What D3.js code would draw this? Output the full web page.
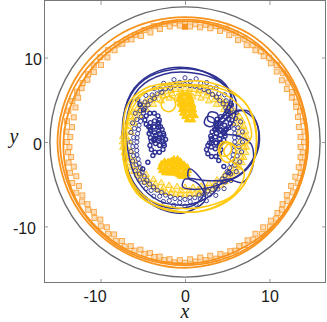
<!DOCTYPE html>
<html>
<head>
<meta charset="utf-8">
<script src="https://cdn.jsdelivr.net/npm/d3@7"></script>
<style>
  body { margin: 0; background: #fff; }
  svg { display: block; }
  .tick text { font-family: "Liberation Sans", Arial, sans-serif; font-size: 16px; fill: #1a1a1a; }
  .tick line { stroke: #999; }
  .axis-label { font-family: "Liberation Serif", "Times New Roman", serif; font-style: italic; font-size: 20px; fill: #1a1a1a; }
</style>
</head>
<body>
<svg id="chart" width="327" height="322"></svg>
<script>
/*
** DATA (all values in plot units)
*/
const ticks = [-10, 0, 10];
const boundaryRadius = 16;

// sampling angles (degrees) for the polar bands
const lineAngles = [0, 30, 60, 90, 120, 150, 180, 210, 240, 270, 300, 330];
const bandAngles = [0, 10, 20, 30, 40, 50, 60, 70, 80, 90, 100, 110, 120, 130, 140, 150, 160, 170,
  180, 190, 200, 210, 220, 230, 240, 250, 260, 270, 280, 290, 300, 310, 320, 330, 340, 350];
const bandAnglesHalf = [5, 15, 25, 35, 45, 55, 65, 75, 85, 95, 105, 115, 125, 135, 145, 155, 165, 175,
  185, 195, 205, 215, 225, 235, 245, 255, 265, 275, 285, 295, 305, 315, 325, 335, 345, 355];
const squareAngles = [0, 5, 10, 15, 20, 25, 30, 35, 40, 45, 50, 55, 60, 65, 70, 75, 80, 85, 90, 95, 100, 105, 110, 115,
  120, 125, 130, 135, 140, 145, 150, 155, 160, 165, 170, 175, 180, 185, 190, 195, 200, 205, 210, 215, 220, 225, 230, 235,
  240, 245, 250, 255, 260, 265, 270, 275, 280, 285, 290, 295, 300, 305, 310, 315, 320, 325, 330, 335, 340, 345, 350, 355];
const squareAnglesHalf = [2.5, 7.5, 12.5, 17.5, 22.5, 27.5, 32.5, 37.5, 42.5, 47.5, 52.5, 57.5, 62.5, 67.5, 72.5, 77.5, 82.5, 87.5,
  92.5, 97.5, 102.5, 107.5, 112.5, 117.5, 122.5, 127.5, 132.5, 137.5, 142.5, 147.5, 152.5, 157.5, 162.5, 167.5, 172.5, 177.5,
  182.5, 187.5, 192.5, 197.5, 202.5, 207.5, 212.5, 217.5, 222.5, 227.5, 232.5, 237.5, 242.5, 247.5, 252.5, 257.5, 262.5, 267.5,
  272.5, 277.5, 282.5, 287.5, 292.5, 297.5, 302.5, 307.5, 312.5, 317.5, 322.5, 327.5, 332.5, 337.5, 342.5, 347.5, 352.5, 357.5];

// orange particle: trajectory loops (radius at each line angle)
const orangeLoops = [
  [14.5, 14.7, 14.9, 14.8, 14.9, 15.0, 15.1, 15.0, 14.9, 14.9, 14.8, 14.6],
  [14.4, 14.3, 14.5, 14.5, 14.3, 14.6, 14.8, 14.7, 14.7, 14.6, 14.6, 14.4],
  [14.6, 14.5, 14.2, 14.3, 14.0, 14.1, 14.4, 14.6, 14.5, 14.4, 14.3, 14.5]
];
// orange particle: square markers
const orangeSquaresOuter = [14.1, 14.2, 14.2, 14.1, 14.0, 14.0, 14.1, 14.2, 14.2, 14.1, 14.0, 14.0, 14.1, 14.2, 14.3, 14.2, 14.1, 14.0,
  14.0, 14.1, 14.2, 14.2, 14.1, 14.0, 14.0, 14.1, 14.2, 14.2, 14.1, 14.0, 14.0, 14.1, 14.2, 14.3, 14.2, 14.1,
  14.0, 13.9, 14.0, 14.1, 14.2, 14.2, 14.1, 14.0, 14.0, 14.1, 14.2, 14.3, 14.3, 14.2, 14.1, 14.1, 14.2, 14.3,
  14.3, 14.2, 14.2, 14.3, 14.3, 14.2, 14.1, 14.1, 14.2, 14.2, 14.1, 14.0, 14.0, 14.1, 14.2, 14.2, 14.1, 14.0];
const orangeSquaresInner = [13.7, 13.6, 13.7, 13.8, 13.7, 13.6, 13.6, 13.7, 13.8, 13.8, 13.7, 13.6, 13.6, 13.7, 13.8, 13.8, 13.7, 13.7,
  13.8, 13.8, 13.7, 13.6, 13.6, 13.7, 13.8, 13.7, 13.6, 13.5, 13.6, 13.7, 13.8, 13.7, 13.6, 13.5, 13.5, 13.6,
  13.7, 13.6, 13.5, 13.5, 13.6, 13.7, 13.7, 13.6, 13.6, 13.7, 13.8, 13.9, 13.9, 13.8, 13.8, 13.9, 14.0, 14.0,
  13.9, 13.8, 13.8, 13.9, 14.0, 13.9, 13.8, 13.7, 13.7, 13.8, 13.8, 13.7, 13.6, 13.6, 13.7, 13.8, 13.8, 13.7];
const orangeStart = [0, 13.65];

// blue particle: circle marker band (radius at each band angle)
const blueBandOuter = [6.8, 6.9, 7.0, 7.0, 7.1, 7.3, 7.4, 7.5, 7.6, 7.6, 7.5, 7.4, 7.3, 7.2, 7.0, 6.8, 6.6, 6.5,
  6.4, 6.5, 6.6, 6.8, 7.0, 7.2, 7.4, 7.5, 7.6, 7.6, 7.5, 7.4, 7.3, 7.2, 7.1, 7.0, 6.9, 6.8];
const blueBandInner = [5.9, 6.0, 6.1, 6.2, 6.3, 6.4, 6.5, 6.6, 6.7, 6.8, 6.8, 6.7, 6.6, 6.4, 6.2, 6.0, 5.8, 5.7,
  5.7, 5.8, 5.9, 6.1, 6.3, 6.5, 6.6, 6.7, 6.8, 6.8, 6.7, 6.6, 6.5, 6.3, 6.2, 6.1, 6.0, 5.9];
const blueBandMid = [6.4, 6.5, 6.6, 6.7, 6.9, 7.0, 7.1, 7.2, 7.2, 7.1, 7.0, 6.9, 6.8, 6.7, 6.5, 6.3, 6.2, 6.1,
  6.2, 6.3, 6.4, 6.6, 6.8, 7.0, 7.1, 7.2, 7.2, 7.1, 7.0, 6.9, 6.8, 6.7, 6.6, 6.5, 6.4, 6.4];
const blueBandMidInner = [5.9, 6.0, 6.1, 6.3, 6.4, 6.5, 6.6, 6.7, 6.7, 6.7, 6.6, 6.5, 6.3, 6.2, 6.0, 5.8, 5.7, 5.7,
  5.8, 5.9, 6.0, 6.2, 6.4, 6.5, 6.6, 6.7, 6.7, 6.6, 6.5, 6.4, 6.3, 6.2, 6.1, 6.0, 5.9, 5.9];
// blue particle: marker clusters (x, y)
const blueClusterLeft = [
  [-3.05, 2.6], [-3.21, 3.1], [-3.64, 3.41], [-4.16, 3.41], [-4.59, 3.1], [-4.75, 2.6], [-4.59, 2.1], [-4.16, 1.79], [-3.64, 1.79], [-3.21, 2.1],
  [-2.55, 1.0], [-2.71, 1.5], [-3.14, 1.81], [-3.66, 1.81], [-4.09, 1.5], [-4.25, 1.0], [-4.09, 0.5], [-3.66, 0.19], [-3.14, 0.19], [-2.71, 0.5],
  [-2.45, -0.4], [-2.61, 0.1], [-3.04, 0.41], [-3.56, 0.41], [-3.99, 0.1], [-4.15, -0.4], [-3.99, -0.9], [-3.56, -1.21], [-3.04, -1.21], [-2.61, -0.9],
  [-2.9, 1.8], [-3.11, 2.29], [-3.6, 2.5], [-4.09, 2.29], [-4.3, 1.8], [-4.09, 1.31], [-3.6, 1.1], [-3.11, 1.31],
  [-2.3, 0.3], [-2.51, 0.79], [-3.0, 1.0], [-3.49, 0.79], [-3.7, 0.3], [-3.49, -0.19], [-3.0, -0.4], [-2.51, -0.19],
  [-4.9, 3.8], [-5.3, 4.4], [-5.6, 5.0], [-3.8, -1.6], [-4.4, -2.4], [-5.0, -3.2]
];
const blueClusterRight = [
  [5.35, 2.2], [5.19, 2.7], [4.76, 3.01], [4.24, 3.01], [3.81, 2.7], [3.65, 2.2], [3.81, 1.7], [4.24, 1.39], [4.76, 1.39], [5.19, 1.7],
  [4.75, 0.7], [4.59, 1.2], [4.16, 1.51], [3.64, 1.51], [3.21, 1.2], [3.05, 0.7], [3.21, 0.2], [3.64, -0.11], [4.16, -0.11], [4.59, 0.2],
  [4.25, -0.9], [4.09, -0.4], [3.66, -0.09], [3.14, -0.09], [2.71, -0.4], [2.55, -0.9], [2.71, -1.4], [3.14, -1.71], [3.66, -1.71], [4.09, -1.4],
  [4.9, 1.5], [4.69, 1.99], [4.2, 2.2], [3.71, 1.99], [3.5, 1.5], [3.71, 1.01], [4.2, 0.8], [4.69, 1.01],
  [4.3, -0.1], [4.09, 0.39], [3.6, 0.6], [3.11, 0.39], [2.9, -0.1], [3.11, -0.59], [3.6, -0.8], [4.09, -0.59],
  [5.0, 3.6], [5.5, 4.4], [4.0, -2.2], [4.6, -2.9], [5.2, -3.6]
];
// blue particle: trajectory passes (x, y)
const bluePasses = [
  [[3.6, 1.6], [3.4, 2.8], [2.6, 3.0], [2.3, 2.2], [3.0, 1.8], [4.2, 2.6], [5.6, 4.6], [4.8, 6.8], [2.0, 8.4], [-1.5, 8.6],
   [-4.8, 7.4], [-6.8, 4.8], [-7.4, 1.0], [-6.9, -3.0], [-5.0, -6.2], [-2.0, -7.8], [1.2, -7.4], [2.4, -5.6], [1.4, -3.8],
   [0.5, -3.2], [0.4, -4.2], [1.3, -4.4], [3.0, -4.6], [6.0, -4.2], [8.2, -2.0], [8.8, 1.0], [7.6, 3.6], [5.6, 3.4]],
  [[4.2, 2.2], [3.8, 3.4], [2.9, 3.5], [2.7, 2.6], [3.5, 2.3], [4.6, 3.4], [5.4, 5.6], [3.6, 7.6], [0.4, 8.8], [-3.2, 8.4],
   [-6.0, 6.4], [-7.3, 3.0], [-7.2, -1.2], [-6.2, -4.8], [-3.6, -7.6], [-0.2, -8.4], [2.4, -6.8], [1.6, -5.0], [0.0, -4.4],
   [-0.3, -5.3], [0.8, -5.6], [3.6, -5.2], [6.8, -3.6], [8.6, -0.6], [8.4, 2.4], [6.4, 3.8]],
  [[4.8, 1.0], [5.8, 2.6], [6.0, 5.0], [4.0, 7.2], [0.8, 8.2], [-2.6, 8.0], [-5.4, 6.4], [-6.8, 3.4], [-6.8, -0.8],
   [-5.6, -4.6], [-3.0, -7.0], [0.6, -7.4], [3.2, -6.2], [4.8, -4.4], [6.8, -4.8], [8.0, -3.0], [7.8, -0.2], [6.0, 0.8]]
];

// yellow particle: triangle marker band (radius at each band angle)
const yellowBandOuter = [7.3, 7.3, 7.2, 7.0, 6.8, 6.6, 6.5, 6.4, 6.3, 6.3, 6.3, 6.3, 6.4, 6.6, 6.8, 7.0, 7.2, 7.3,
  7.4, 7.3, 7.2, 7.0, 6.8, 6.6, 6.5, 6.4, 6.3, 6.3, 6.3, 6.4, 6.5, 6.7, 6.9, 7.1, 7.2, 7.3];
const yellowBandInner = [6.5, 6.5, 6.4, 6.2, 6.0, 5.8, 5.6, 5.5, 5.4, 5.4, 5.4, 5.5, 5.6, 5.8, 6.0, 6.2, 6.4, 6.5,
  6.6, 6.5, 6.4, 6.2, 6.0, 5.8, 5.6, 5.5, 5.4, 5.4, 5.5, 5.6, 5.7, 5.9, 6.1, 6.3, 6.4, 6.5];
const yellowBandMid = [7.0, 6.9, 6.7, 6.5, 6.3, 6.1, 6.0, 5.9, 5.8, 5.8, 5.9, 6.0, 6.1, 6.3, 6.5, 6.7, 6.9, 7.0,
  7.0, 6.9, 6.7, 6.5, 6.3, 6.1, 6.0, 5.9, 5.8, 5.8, 5.9, 6.0, 6.1, 6.3, 6.5, 6.7, 6.9, 7.0];
const yellowBandMidOuter = [7.3, 7.2, 7.1, 6.9, 6.7, 6.5, 6.4, 6.3, 6.2, 6.2, 6.3, 6.4, 6.5, 6.7, 6.9, 7.1, 7.3, 7.4,
  7.4, 7.3, 7.1, 6.9, 6.7, 6.5, 6.4, 6.3, 6.2, 6.2, 6.3, 6.4, 6.5, 6.7, 6.9, 7.1, 7.2, 7.3];
// yellow particle: marker clusters (x, y)
const yellowClusterTop = [
  [0.7, 5.0], [0.57, 5.41], [0.22, 5.67], [-0.22, 5.67], [-0.57, 5.41], [-0.7, 5.0], [-0.57, 4.59], [-0.22, 4.33], [0.22, 4.33], [0.57, 4.59],
  [1.0, 3.8], [0.87, 4.21], [0.52, 4.47], [0.08, 4.47], [-0.27, 4.21], [-0.4, 3.8], [-0.27, 3.39], [0.08, 3.13], [0.52, 3.13], [0.87, 3.39],
  [0.9, 4.4], [0.69, 4.89], [0.2, 5.1], [-0.29, 4.89], [-0.5, 4.4], [-0.29, 3.91], [0.2, 3.7], [0.69, 3.91],
  [1.2, 3.1], [0.9, 2.6], [0.3, 2.6], [0.0, 3.0]
];
const yellowClusterBottom = [
  [-1.5, -3.0], [-1.63, -2.59], [-1.98, -2.33], [-2.42, -2.33], [-2.77, -2.59], [-2.9, -3.0], [-2.77, -3.41], [-2.42, -3.67], [-1.98, -3.67], [-1.63, -3.41],
  [-0.4, -2.7], [-0.53, -2.29], [-0.88, -2.03], [-1.32, -2.03], [-1.67, -2.29], [-1.8, -2.7], [-1.67, -3.11], [-1.32, -3.37], [-0.88, -3.37], [-0.53, -3.11],
  [0.4, -3.4], [0.27, -2.99], [-0.08, -2.73], [-0.52, -2.73], [-0.87, -2.99], [-1.0, -3.4], [-0.87, -3.81], [-0.52, -4.07], [-0.08, -4.07], [0.27, -3.81],
  [-0.9, -3.0], [-1.11, -2.51], [-1.6, -2.3], [-2.09, -2.51], [-2.3, -3.0], [-2.09, -3.49], [-1.6, -3.7], [-1.11, -3.49],
  [0.0, -3.2], [-0.21, -2.71], [-0.7, -2.5], [-1.19, -2.71], [-1.4, -3.2], [-1.19, -3.69], [-0.7, -3.9], [-0.21, -3.69]
];
// yellow particle: trajectory passes (x, y)
const yellowPasses = [
  [[-7.4, 1.0], [-6.8, 4.4], [-4.6, 6.4], [-1.6, 7.0], [2.0, 7.2], [5.6, 6.0], [7.8, 3.6], [8.5, 0.4], [7.8, -3.4],
   [5.6, -6.6], [2.0, -8.2], [-2.0, -8.0], [-5.2, -6.6], [-7.0, -3.6]],
  [[-7.0, 2.0], [-6.0, 5.0], [-3.0, 6.6], [0.6, 6.8], [4.0, 6.4], [7.0, 4.8], [8.3, 1.8], [8.2, -2.0], [6.6, -5.6],
   [3.2, -7.8], [-0.8, -8.3], [-4.2, -7.2], [-6.4, -4.8], [-7.2, -1.4]],
  [[-6.6, 3.2], [-4.8, 5.8], [-1.8, 6.5], [1.6, 6.6], [4.8, 5.6], [7.2, 3.2], [7.8, 0.4], [6.2, -0.6], [5.2, -0.2],
   [4.6, -1.2], [5.4, -2.2], [7.0, -3.6], [5.8, -6.2], [2.6, -7.6], [-1.2, -7.8], [-4.6, -6.6], [-6.6, -4.0], [-7.0, -0.4]],
  [[-1.1, 4.4], [-1.4, 5.2], [-2.1, 5.4], [-2.7, 4.9], [-2.7, 4.0], [-2.1, 3.6], [-1.4, 3.8]],
  [[5.5, -0.8], [5.2, -0.1], [4.5, 0.0], [4.0, -0.6], [4.1, -1.4], [4.7, -1.7], [5.3, -1.4]],
  [[6.0, -1.2], [5.7, -0.3], [4.9, -0.1], [4.2, -0.7], [4.2, -1.7], [4.9, -2.4], [5.7, -2.1]]
];

/*
** SETUP
*/
const orange = "#F7931E";
const blue = "#2E3192";
const yellow = "#FFC90E";

const svg = d3.select("#chart");
const x = d3.scaleLinear().domain([-16.7, 16.7]).range([44, 326]);
const y = d3.scaleLinear().domain([-16.7, 16.7]).range([283, 1]);

// turn (angle, radius) lists into x/y points
function polar(angles, radii) {
  return angles.map((a, i) => {
    let t = a * Math.PI / 180;
    return [radii[i] * Math.cos(t), radii[i] * Math.sin(t)];
  });
}

const closedLine = d3.line()
  .x(d => x(d[0]))
  .y(d => y(d[1]))
  .curve(d3.curveCatmullRomClosed.alpha(0.5));

const plot = svg.append("g");

/*
** MARKS
*/
// boundary circle
plot.append("circle")
  .attr("cx", x(0))
  .attr("cy", y(0))
  .attr("r", x(boundaryRadius) - x(0))
  .attr("fill", "none")
  .attr("stroke", "#6b6b6b")
  .attr("stroke-width", 1.4);

// orange markers then trajectory
const orangeSquares = polar(squareAngles, orangeSquaresOuter).concat(polar(squareAnglesHalf, orangeSquaresInner));
plot.append("g")
  .selectAll("rect")
  .data(orangeSquares)
  .enter()
  .append("rect")
    .attr("x", d => x(d[0]) - 2.5)
    .attr("y", d => y(d[1]) - 2.5)
    .attr("width", 5)
    .attr("height", 5)
    .attr("fill", orange)
    .attr("fill-opacity", 0.3)
    .attr("stroke", orange)
    .attr("stroke-opacity", 0.75)
    .attr("stroke-width", 1);

plot.append("g")
  .selectAll("path")
  .data(orangeLoops)
  .enter()
  .append("path")
    .attr("d", r => closedLine(polar(lineAngles, r)))
    .attr("fill", "none")
    .attr("stroke", orange)
    .attr("stroke-width", 1.8);

plot.append("rect")
  .attr("x", x(orangeStart[0]) - 3)
  .attr("y", y(orangeStart[1]) - 3)
  .attr("width", 6)
  .attr("height", 6)
  .attr("fill", orange);

// yellow triangles
const triangle = d3.symbol().type(d3.symbolTriangle).size(18);
const yellowBand = polar(bandAngles, yellowBandOuter)
  .concat(polar(bandAngles, yellowBandInner))
  .concat(polar(bandAnglesHalf, yellowBandMid))
  .concat(polar(bandAnglesHalf, yellowBandMidOuter));
plot.append("g")
  .selectAll("path")
  .data(yellowBand)
  .enter()
  .append("path")
    .attr("d", triangle)
    .attr("transform", d => "translate(" + x(d[0]) + "," + y(d[1]) + ")")
    .attr("fill", yellow)
    .attr("fill-opacity", 0.3)
    .attr("stroke", yellow)
    .attr("stroke-opacity", 0.9)
    .attr("stroke-width", 1);

plot.append("g")
  .selectAll("path")
  .data(yellowClusterTop.concat(yellowClusterBottom))
  .enter()
  .append("path")
    .attr("d", triangle)
    .attr("transform", d => "translate(" + x(d[0]) + "," + y(d[1]) + ")")
    .attr("fill", yellow)
    .attr("stroke", yellow)
    .attr("stroke-width", 1);

// blue circles
const blueBand = polar(bandAngles, blueBandOuter)
  .concat(polar(bandAngles, blueBandInner))
  .concat(polar(bandAnglesHalf, blueBandMid))
  .concat(polar(bandAnglesHalf, blueBandMidInner));
plot.append("g")
  .selectAll("circle")
  .data(blueBand)
  .enter()
  .append("circle")
    .attr("cx", d => x(d[0]))
    .attr("cy", d => y(d[1]))
    .attr("r", 2.1)
    .attr("fill", "none")
    .attr("stroke", blue)
    .attr("stroke-opacity", 0.9)
    .attr("stroke-width", 1);

plot.append("g")
  .selectAll("circle")
  .data(blueClusterLeft.concat(blueClusterRight))
  .enter()
  .append("circle")
    .attr("cx", d => x(d[0]))
    .attr("cy", d => y(d[1]))
    .attr("r", 2.0)
    .attr("fill", "none")
    .attr("stroke", blue)
    .attr("stroke-width", 1.4);

// trajectories
plot.append("g")
  .selectAll("path")
  .data(bluePasses)
  .enter()
  .append("path")
    .attr("d", closedLine)
    .attr("fill", "none")
    .attr("stroke", blue)
    .attr("stroke-width", 1.5);

plot.append("g")
  .selectAll("path")
  .data(yellowPasses)
  .enter()
  .append("path")
    .attr("d", closedLine)
    .attr("fill", "none")
    .attr("stroke", yellow)
    .attr("stroke-width", 1.5);

/*
** AXES
*/
const fmt = d => d < 0 ? "-" + Math.abs(d) : String(d);

svg.append("g")
  .attr("transform", "translate(0,283)")
  .call(d3.axisBottom(x).tickValues(ticks).tickSize(-4).tickPadding(8).tickFormat(fmt))
  .call(g => g.select(".domain").remove())
  .call(g => g.selectAll("text").filter(d => d < 0).attr("dx", -6));

svg.append("g")
  .attr("transform", "translate(44,0)")
  .call(d3.axisLeft(y).tickValues(ticks).tickSize(-4).tickPadding(2).tickFormat(fmt))
  .call(g => g.select(".domain").remove())
  .call(g => g.selectAll("text").attr("dy", "0.45em").filter(d => d < 0).attr("dx", -6));

svg.append("g")
  .attr("transform", "translate(0,1)")
  .call(d3.axisTop(x).tickValues(ticks).tickSize(-4).tickFormat(""))
  .call(g => g.select(".domain").remove());

svg.append("g")
  .attr("transform", "translate(326,0)")
  .call(d3.axisRight(y).tickValues(ticks).tickSize(-4).tickFormat(""))
  .call(g => g.select(".domain").remove());

// frame
svg.append("rect")
  .attr("x", 44.5)
  .attr("y", 0.5)
  .attr("width", 281)
  .attr("height", 282)
  .attr("fill", "none")
  .attr("stroke", "#777")
  .attr("stroke-width", 1);

svg.append("text")
  .attr("class", "axis-label")
  .attr("x", x(0))
  .attr("y", 318)
  .attr("text-anchor", "middle")
  .text("x");

svg.append("text")
  .attr("class", "axis-label")
  .attr("x", 14)
  .attr("y", 143)
  .attr("text-anchor", "middle")
  .text("y");
</script>
</body>
</html>
